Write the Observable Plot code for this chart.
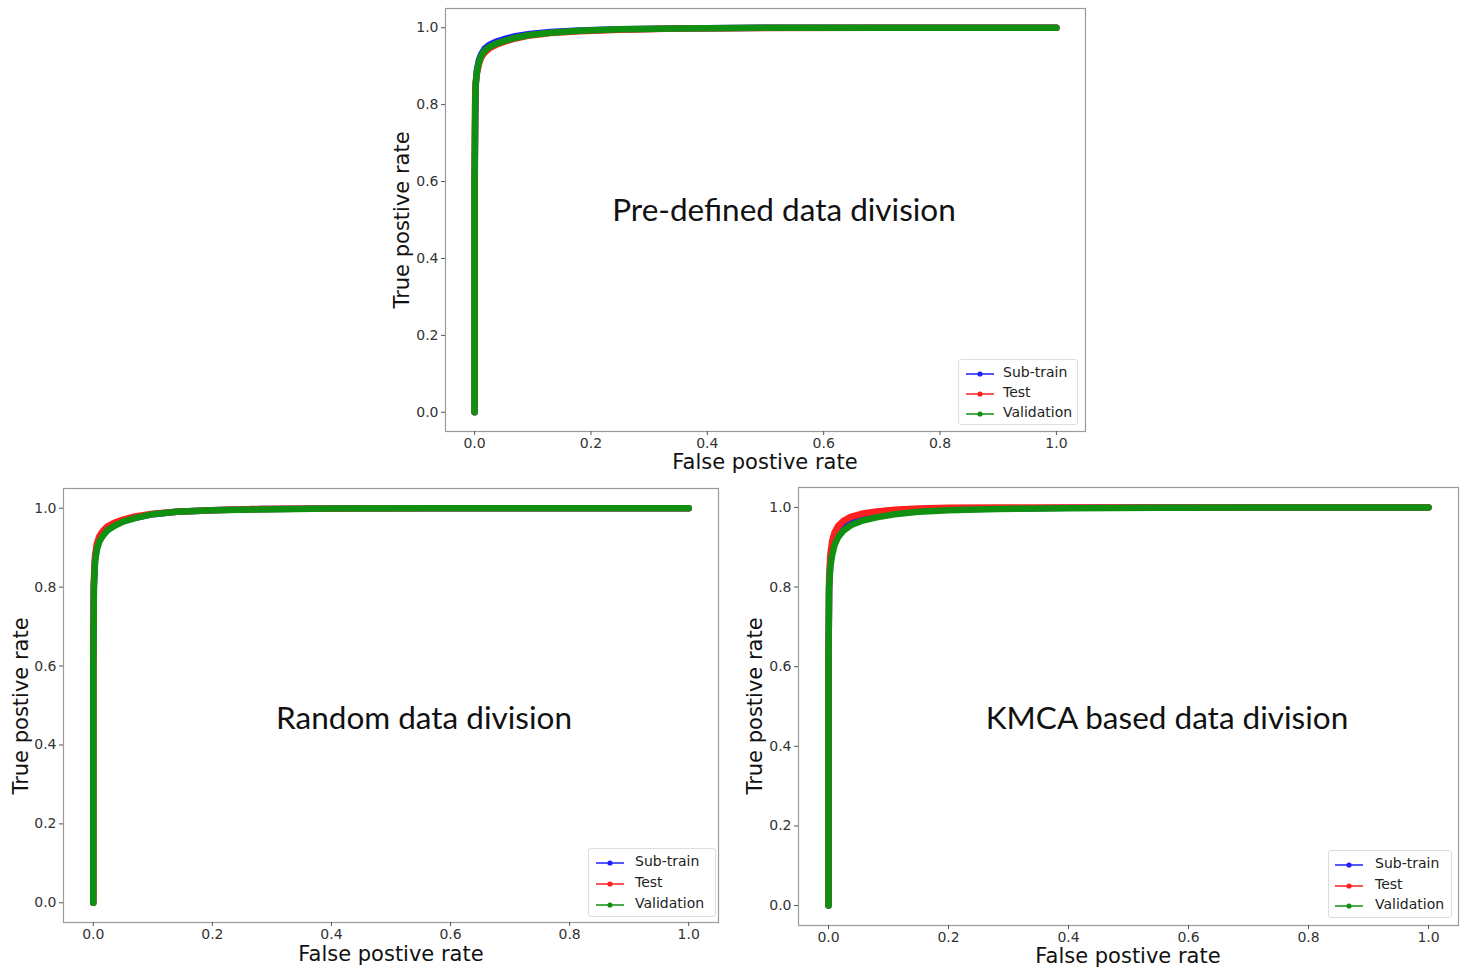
<!DOCTYPE html>
<html>
<head>
<meta charset="utf-8">
<script src="https://cdn.jsdelivr.net/npm/d3@7"></script>
<script src="https://cdn.jsdelivr.net/npm/@observablehq/plot@0.6"></script>
<style>
  html, body { margin: 0; padding: 0; background: #fff; }
  #root { position: relative; width: 1468px; height: 973px; overflow: hidden; font-family: "DejaVu Sans", sans-serif; }
  .panel { position: absolute; }
  .axlabel { position: absolute; font-family: "DejaVu Sans", sans-serif; font-size: 21px; color: #111; white-space: nowrap; transform: translate(-50%, -50%); }
  .axlabel.rot { transform: translate(-50%, -50%) rotate(-90deg); }
  .title { position: absolute; font-family: "Lato", "Open Sans", sans-serif; font-size: 31.5px; color: #111; white-space: nowrap; transform: translate(-50%, -50%); }
  .legend { position: absolute; border: 1px solid #ddd; border-radius: 3px; background: rgba(255,255,255,0.9); box-sizing: border-box; }
  .legend .row { position: absolute; left: 0; height: 20px; font-size: 14px; color: #222; font-family: "DejaVu Sans", sans-serif; }
  .legend svg { position: absolute; left: 0; top: 0; }
  .legend span { position: absolute; top: 1px; white-space: nowrap; }
</style>
</head>
<body>
<div id="root"></div>
<script>
// ---------- data ----------
const tickValues = [0, 0.2, 0.4, 0.6, 0.8, 1.0];
const seriesNames = ["Sub-train", "Test", "Validation"];
const panelTitles = ["Pre-defined data division", "Random data division", "KMCA based data division"];
const xLabel = "False postive rate";
const yLabel = "True postive rate";

// Pre-defined data division
const preFpr = [0, 0, 0, 0.001, 0.002, 0.004, 0.007, 0.011, 0.017, 0.025, 0.036, 0.05, 0.07, 0.095, 0.13, 0.18, 0.25, 0.35, 0.5, 0.7, 1.0];
const preSubTrainTpr = [0, 0.25, 0.55, 0.75, 0.85, 0.89, 0.913, 0.93, 0.945, 0.955, 0.963, 0.97, 0.978, 0.984, 0.989, 0.993, 0.996, 0.998, 1, 1, 1];
const preTestTpr     = [0, 0.3, 0.6, 0.82, 0.86, 0.88, 0.903, 0.922, 0.935, 0.946, 0.955, 0.963, 0.972, 0.98, 0.986, 0.991, 0.995, 0.998, 0.999, 1, 1];
const preValTpr      = [0, 0.3, 0.6, 0.8, 0.855, 0.885, 0.908, 0.926, 0.94, 0.95, 0.958, 0.965, 0.974, 0.981, 0.987, 0.992, 0.996, 0.998, 1, 1, 1];

// Random data division
const rndFpr = [0, 0, 0, 0.001, 0.003, 0.006, 0.01, 0.016, 0.024, 0.035, 0.05, 0.07, 0.1, 0.14, 0.2, 0.28, 0.4, 0.55, 0.75, 1.0];
const rndSubTrainTpr = [0, 0.3, 0.6, 0.8, 0.87, 0.9, 0.918, 0.933, 0.946, 0.957, 0.967, 0.976, 0.985, 0.991, 0.995, 0.998, 0.999, 1, 1, 1];
const rndTestTpr     = [0, 0.3, 0.65, 0.82, 0.88, 0.91, 0.928, 0.942, 0.954, 0.963, 0.971, 0.979, 0.986, 0.991, 0.995, 0.998, 0.999, 1, 1, 1];
const rndValTpr      = [0, 0.3, 0.6, 0.8, 0.865, 0.895, 0.915, 0.93, 0.944, 0.955, 0.966, 0.975, 0.985, 0.991, 0.995, 0.997, 0.999, 1, 1, 1];

// KMCA based data division
const kmcaFpr = [0, 0, 0, 0.001, 0.003, 0.006, 0.01, 0.016, 0.025, 0.037, 0.055, 0.08, 0.11, 0.15, 0.2, 0.28, 0.4, 0.55, 0.75, 1.0];
const kmcaSubTrainTpr = [0, 0.3, 0.6, 0.8, 0.86, 0.89, 0.915, 0.935, 0.95, 0.962, 0.972, 0.98, 0.987, 0.991, 0.995, 0.997, 0.999, 1, 1, 1];
const kmcaTestTpr     = [0, 0.3, 0.6, 0.82, 0.88, 0.915, 0.937, 0.953, 0.966, 0.976, 0.984, 0.99, 0.994, 0.997, 0.999, 1, 1, 1, 1, 1];
const kmcaValTpr      = [0, 0.3, 0.6, 0.8, 0.85, 0.88, 0.905, 0.925, 0.942, 0.955, 0.966, 0.975, 0.983, 0.989, 0.993, 0.996, 0.998, 0.999, 1, 1];

// ---------- styles / layout ----------
const colors = ["#1f1fff", "#ff1f1f", "#109010"];
const root = document.getElementById("root");

const panels = [
  { title: panelTitles[0], fpr: preFpr, tprs: [preSubTrainTpr, preTestTpr, preValTpr],
    left: 345, top: 0, ml: 100, mt: 8, fw: 640, fh: 423, mr: 20, mb: 40,
    titleX: 784, titleY: 209, yLabX: 402, yLabY: 220, xLabX: 765, xLabY: 462,
    leg: { x: 958, y: 359, w: 120, h: 66, lineX: 7, textX: 44 } },
  { title: panelTitles[1], fpr: rndFpr, tprs: [rndSubTrainTpr, rndTestTpr, rndValTpr],
    left: 0, top: 480, ml: 63, mt: 8, fw: 655, fh: 434, mr: 20, mb: 40,
    titleX: 424, titleY: 717, yLabX: 21, yLabY: 706, xLabX: 391, xLabY: 954,
    leg: { x: 588, y: 848, w: 128, h: 69, lineX: 7, textX: 46 } },
  { title: panelTitles[2], fpr: kmcaFpr, tprs: [kmcaSubTrainTpr, kmcaTestTpr, kmcaValTpr],
    left: 740, top: 479, ml: 58, mt: 8, fw: 660, fh: 438, mr: 8, mb: 40,
    titleX: 1167, titleY: 717, yLabX: 755, yLabY: 706, xLabX: 1128, xLabY: 956,
    leg: { x: 1328, y: 850, w: 124, h: 68, lineX: 6, textX: 46 } }
];

function addDiv(cls, text, x, y) {
  const d = document.createElement("div");
  d.className = cls;
  d.textContent = text;
  d.style.left = x + "px";
  d.style.top = y + "px";
  root.appendChild(d);
  return d;
}

panels.forEach(p => {
  const marks = [Plot.frame({ stroke: "#9a9a9a", strokeWidth: 1.2 })];
  p.tprs.forEach((tpr, i) => {
    const rows = p.fpr.map((f, j) => ({ fpr: f, tpr: tpr[j] }));
    marks.push(Plot.line(rows, { x: "fpr", y: "tpr", stroke: colors[i], strokeWidth: 6.5, strokeLinecap: "round", strokeLinejoin: "round" }));
  });
  marks.push(Plot.axisX({ ticks: tickValues, tickFormat: d3.format(".1f"), tickSize: 4, tickPadding: 3, fontSize: 14, label: null, stroke: "#555", color: "#333" }));
  marks.push(Plot.axisY({ ticks: tickValues, tickFormat: d3.format(".1f"), tickSize: 4, tickPadding: 3, fontSize: 14, label: null, stroke: "#555", color: "#333" }));

  const chart = Plot.plot({
    width: p.ml + p.fw + p.mr,
    height: p.mt + p.fh + p.mb,
    marginLeft: p.ml, marginRight: p.mr, marginTop: p.mt, marginBottom: p.mb,
    x: { domain: [-0.05, 1.05] },
    y: { domain: [-0.05, 1.05] },
    style: { fontFamily: "DejaVu Sans, sans-serif", fontSize: "14px", background: "transparent", overflow: "visible" },
    marks
  });
  const wrap = document.createElement("div");
  wrap.className = "panel";
  wrap.style.left = p.left + "px";
  wrap.style.top = p.top + "px";
  wrap.appendChild(chart);
  root.appendChild(wrap);

  addDiv("title", p.title, p.titleX, p.titleY);
  addDiv("axlabel rot", yLabel, p.yLabX, p.yLabY);
  addDiv("axlabel", xLabel, p.xLabX, p.xLabY);

  // legend
  const L = p.leg;
  const box = document.createElement("div");
  box.className = "legend";
  box.style.left = L.x + "px";
  box.style.top = L.y + "px";
  box.style.width = L.w + "px";
  box.style.height = L.h + "px";
  const rowH = (L.h - 6) / 3;
  seriesNames.forEach((name, i) => {
    const row = document.createElement("div");
    row.className = "row";
    row.style.top = (3 + i * rowH) + "px";
    row.style.width = L.w + "px";
    const cy = 11;
    row.innerHTML = `<svg width="${L.textX}" height="20"><line x1="${L.lineX}" x2="${L.lineX + 28}" y1="${cy}" y2="${cy}" stroke="${colors[i]}" stroke-width="1.5"/><circle cx="${L.lineX + 14}" cy="${cy}" r="2.6" fill="${colors[i]}"/></svg><span style="left:${L.textX}px">${name}</span>`;
    box.appendChild(row);
  });
  root.appendChild(box);
});
</script>
</body>
</html>
